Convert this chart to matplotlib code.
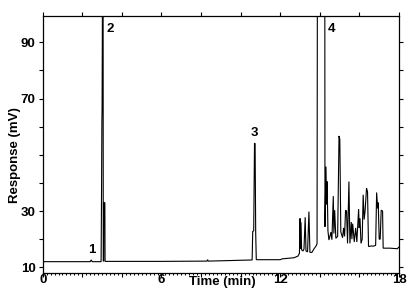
import matplotlib
matplotlib.use("Agg")
import matplotlib.pyplot as plt
import matplotlib.transforms as mtransforms
import numpy as np

# ---- data (time in min, response in mV) ----
time_min = [
    0.0, 2.40, 2.45, 2.50, 2.95,
    2.97, 2.99, 3.00, 3.03, 3.05, 3.06, 3.08, 3.09, 3.14, 3.15,
    6.0, 8.30, 8.33, 8.36, 9.5, 10.0, 10.58,
    10.61, 10.66, 10.70, 10.73, 10.76, 10.79,
    12.0, 12.1, 12.7, 12.9,
    12.97, 13.00, 13.02, 13.05, 13.08, 13.15, 13.20, 13.26, 13.30, 13.38,
    13.45, 13.50, 13.60, 13.70, 13.83, 13.86,
    13.88, 14.25,
    14.26, 14.31, 14.34, 14.37, 14.41, 14.46, 14.51, 14.56, 14.61, 14.68,
    14.71, 14.75, 14.81, 14.90, 14.97, 15.01, 15.06, 15.15, 15.20, 15.25,
    15.30, 15.35, 15.40, 15.47, 15.52, 15.59, 15.62, 15.66, 15.74, 15.81,
    15.87, 15.96, 15.99, 16.03, 16.08, 16.14, 16.19, 16.24, 16.29, 16.36,
    16.41, 16.46, 16.62, 16.70, 16.82, 16.87, 16.92, 16.95, 17.00, 17.05,
    17.10, 17.17, 17.20, 17.54, 17.91, 18.0,
]
response_mv = [
    12.0, 12.0, 12.6, 12.0, 12.0,
    33.0, 62.0, 66.0, 130.0, 130.0, 12.2, 12.2, 33.0, 33.0, 12.1,
    12.1, 12.2, 12.7, 12.2, 12.4, 12.5, 12.6,
    22.7, 23.0, 54.1, 54.0, 22.5, 12.7,
    12.7, 13.0, 13.4, 14.0,
    15.0, 27.4, 16.5, 26.0, 16.2, 15.8, 16.5, 27.8, 15.8, 15.5,
    29.8, 15.3, 15.3, 16.5, 17.8, 18.5,
    130.0, 130.0,
    24.4, 45.8, 32.4, 40.5, 23.0, 19.7, 21.0, 22.5, 19.8, 35.3,
    22.0, 30.3, 20.3, 21.0, 56.7, 55.5, 22.6, 20.5, 24.0, 21.0,
    30.3, 30.0, 18.5, 40.5, 18.5, 26.1, 20.0, 25.5, 19.0, 24.0,
    19.0, 30.7, 24.0, 27.4, 18.5, 20.0, 35.8, 27.0, 30.3, 38.2,
    36.8, 17.4, 17.6, 17.5, 17.8, 36.6, 31.0, 33.0, 20.0, 20.0,
    30.3, 30.0, 16.8, 16.8, 16.6, 17.2,
]
peak_labels = ["1", "2", "3", "4"]
peak_label_t = [2.49, 3.43, 10.68, 14.6]
peak_label_v = [16.2, 94.8, 57.9, 94.7]

y_ticks = [10, 20, 30, 40, 50, 60, 70, 80, 90]
y_tick_labels = ["10", "", "30", "", "", "", "70", "", "90"]
x_ticks = [0, 2, 4, 6, 8, 10, 12, 14, 16, 18]
x_tick_labels = ["0", "", "", "6", "", "", "12", "", "", "18"]

plt.rcParams['font.family'] = ['Liberation Sans', 'DejaVu Sans']
FS = 9.5

fig = plt.figure(figsize=(4.15, 2.96), dpi=100)
ax = fig.add_axes([42.7 / 415, 1 - 273 / 296, (399 - 42.7) / 415, (273 - 16) / 296])

ax.plot(time_min, response_mv, color="black", lw=0.8, solid_joinstyle="miter")

ax.set_xlim(0, 18)
ax.set_ylim(7.97, 99.35)

ax.set_yticks(y_ticks)
ax.set_yticklabels(y_tick_labels, fontsize=FS, fontweight="bold")
ax.set_xticks(x_ticks)
ax.set_xticklabels(x_tick_labels, fontsize=FS, fontweight="bold")
ax.set_xticks(np.arange(0, 18.01, 0.2), minor=True)

ax.tick_params(axis="y", which="major", direction="out", length=3.2, width=0.8,
               pad=2, left=True, right=True, labelright=False)
ax.tick_params(axis="x", which="major", direction="out", length=3.0, width=0.8,
               pad=-2.5, bottom=True, top=True, labeltop=False)
ax.tick_params(axis="x", which="minor", direction="out", length=1.2, width=0.7,
               bottom=True, top=False)

for s in ax.spines.values():
    s.set_linewidth(0.9)

trans = mtransforms.blended_transform_factory(ax.transData, ax.transAxes)
ax.text(9.05, -0.012, "Time (min)", transform=trans, ha="center", va="top",
        fontsize=FS, fontweight="bold")

ax.set_ylabel("Response (mV)", fontsize=FS, fontweight="bold")
ax.yaxis.set_label_coords(-22.0 / 356.3, (273 - 155) / 257)

for lab, t, v in zip(peak_labels, peak_label_t, peak_label_v):
    ax.text(t, v, lab, ha="center", va="center", fontsize=FS, fontweight="bold")

fig.savefig("out.png", dpi=100)
